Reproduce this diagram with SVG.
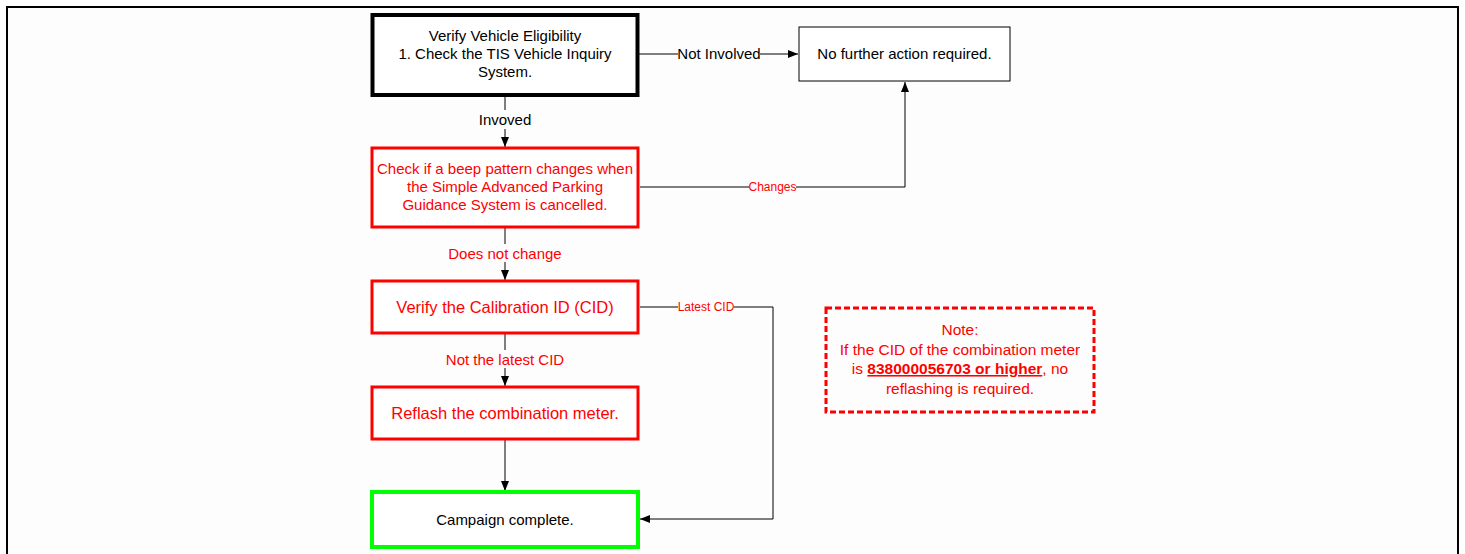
<svg xmlns="http://www.w3.org/2000/svg" width="1465" height="554" viewBox="0 0 1465 554">
<style>
text{font-family:"Liberation Sans",Arial,sans-serif;font-size:15px;text-anchor:middle}
.blk{fill:#000}
.red{fill:#ff0000}
.small{font-size:12px}
.big{font-size:16.5px}
.note{font-size:15.5px}
.line{fill:none;stroke:#000;stroke-width:1}
.box{fill:#fff}
</style>
<defs>
<marker id="ah" markerWidth="10" markerHeight="8" refX="10" refY="4" orient="auto" markerUnits="userSpaceOnUse">
<path d="M0,0 L10,4 L0,8 Z" fill="#000"/>
</marker>
</defs>
<rect x="0" y="0" width="1465" height="554" fill="#fff"/>
<path d="M7,560 L7,7 L1458,7 L1458,560" fill="#fdfdfd" stroke="#000" stroke-width="2"/>
<g id="connectors">
<path class="line" d="M638,54 L678,54 M760,54 L798,54" marker-end="url(#ah)"/>
<text x="719" y="59" class="blk">Not Involved</text>
<path class="line" d="M505,95 L505,110 M505,129 L505,147" marker-end="url(#ah)"/>
<text x="505" y="125" class="blk">Invoved</text>
<path class="line" d="M640,187 L749,187 M796,187 L905,187 L905,82" marker-end="url(#ah)"/>
<text x="772.5" y="191" class="red small">Changes</text>
<path class="line" d="M505,227 L505,244 M505,262 L505,280" marker-end="url(#ah)"/>
<text x="505" y="259" class="red">Does not change</text>
<path class="line" d="M640,307 L678,307 M734,307 L773,307 L773,519 L640,519" marker-end="url(#ah)"/>
<text x="706" y="311" class="red small">Latest CID</text>
<path class="line" d="M505,334 L505,350 M505,368 L505,386" marker-end="url(#ah)"/>
<text x="505" y="365" class="red">Not the latest CID</text>
<path class="line" d="M505,440 L505,491" marker-end="url(#ah)"/>
</g>
<g id="node-eligibility">
<rect x="372.5" y="15" width="265" height="80" class="box" stroke="#000" stroke-width="4"/>
<text x="505" y="41" class="blk">Verify Vehicle Eligibility</text>
<text x="505" y="59" class="blk">1. Check the TIS Vehicle Inquiry</text>
<text x="505" y="77" class="blk">System.</text>
</g>
<g id="node-no-action">
<rect x="799" y="27" width="211" height="54" class="box" stroke="#000" stroke-width="1"/>
<text x="904.5" y="59" class="blk">No further action required.</text>
</g>
<g id="node-beep">
<rect x="372" y="148" width="266" height="79" class="box" stroke="#ff0000" stroke-width="3"/>
<text x="505" y="174" class="red">Check if a beep pattern changes when</text>
<text x="505" y="192" class="red">the Simple Advanced Parking</text>
<text x="505" y="210" class="red">Guidance System is cancelled.</text>
</g>
<g id="node-cid">
<rect x="372" y="281" width="266" height="52" class="box" stroke="#ff0000" stroke-width="3"/>
<text x="505" y="312.5" class="red big">Verify the Calibration ID (CID)</text>
</g>
<g id="node-reflash">
<rect x="372" y="387" width="266" height="52" class="box" stroke="#ff0000" stroke-width="3"/>
<text x="505" y="418.5" class="red big">Reflash the combination meter.</text>
</g>
<g id="node-complete">
<rect x="372" y="492" width="266" height="55" class="box" stroke="#00ff00" stroke-width="4"/>
<text x="505" y="524.5" class="blk">Campaign complete.</text>
</g>
<g id="note">
<rect x="826" y="308" width="268" height="104" fill="none" stroke="#ff0000" stroke-width="3" stroke-dasharray="6,3"/>
<text x="960" y="335" class="red note">Note:</text>
<text x="960" y="354.5" class="red note">If the CID of the combination meter</text>
<text x="960" y="374" class="red note">is <tspan font-weight="bold" text-decoration="underline">838000056703 or higher</tspan>, no</text>
<text x="960" y="393.5" class="red note">reflashing is required.</text>
</g>
</svg>
